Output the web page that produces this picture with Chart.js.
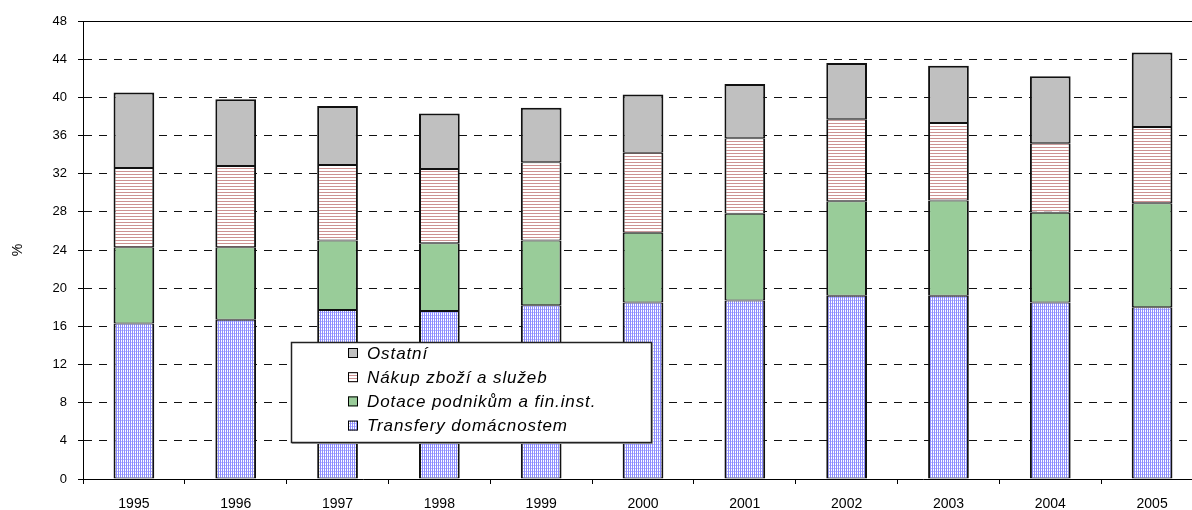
<!DOCTYPE html>
<html>
<head>
<meta charset="utf-8">
<script src="https://cdn.jsdelivr.net/npm/chart.js@4"></script>
<style>
    html, body { margin: 0; padding: 0; background: #fff; overflow: hidden; }
    #wrap { position: absolute; left: 0; top: 0; width: 1215px; height: 510px; }
</style>
</head>
<body>
<div id="wrap"><canvas id="chart" width="1215" height="510"></canvas></div>
<script>
// Data (segment heights, %)
const years = ['1995', '1996', '1997', '1998', '1999', '2000', '2001', '2002', '2003', '2004', '2005'];
const transfery = [16.3, 16.7, 17.7, 17.6, 18.2, 18.5, 18.7, 19.2, 19.2, 18.5, 18.0];
const dotace    = [8.0, 7.6, 7.3, 7.1, 6.8, 7.3, 9.1, 9.9, 10.0, 9.4, 10.9];
const nakup     = [8.3, 8.5, 7.9, 7.8, 8.2, 8.4, 7.9, 8.6, 8.1, 7.3, 8.0];
const ostatni   = [7.9, 7.0, 6.2, 5.8, 5.7, 6.1, 5.7, 5.9, 6.0, 7.0, 7.8];
const seriesNames = ['Transfery domácnostem', 'Dotace podnikům a fin.inst.', 'Nákup zboží a služeb', 'Ostatní'];
const yTicks = [0, 4, 8, 12, 16, 20, 24, 28, 32, 36, 40, 44, 48];

const ctx = document.getElementById('chart').getContext('2d');

function makePattern(w, h, draw) {
    const c = document.createElement('canvas');
    c.width = w; c.height = h;
    const g = c.getContext('2d');
    g.fillStyle = '#fff';
    g.fillRect(0, 0, w, h);
    draw(g);
    return ctx.createPattern(c, 'repeat');
}

// blue fine grid
const bluePat = makePattern(2, 3, g => {
    g.fillStyle = 'rgb(140,140,255)';
    g.fillRect(0, 0, 1, 3);
    g.fillStyle = 'rgb(185,185,255)';
    g.fillRect(1, 0, 1, 1);
});
// red horizontal stripes
const redPat = makePattern(1, 3, g => {
    g.fillStyle = 'rgb(205,145,145)';
    g.fillRect(0, 0, 1, 1);
});
const greenFill = '#99cc99';
const grayFill = '#c0c0c0';

const fills = [bluePat, greenFill, redPat, grayFill];
const values = [transfery, dotace, nakup, ostatni];

const font = "'Liberation Sans', Arial, sans-serif";

const extras = {
    id: 'extras',
    afterDraw(chart) {
        const c = chart.ctx;
        const a = chart.chartArea;
        c.save();
        // top frame line
        c.strokeStyle = '#000';
        c.lineWidth = 1;
        c.beginPath();
        c.moveTo(a.left, Math.round(a.top) + 0.5);
        c.lineTo(a.right, Math.round(a.top) + 0.5);
        c.stroke();

        // legend box
        const lx = 291, ly = 342, lw = 360, lh = 100;
        c.fillStyle = '#aaa';
        c.fillRect(lx + 1, ly + 1, lw + 1, lh + 1);
        c.fillStyle = '#fff';
        c.fillRect(lx, ly, lw, lh);
        c.strokeStyle = '#222';
        c.lineWidth = 1.5;
        c.strokeRect(lx + 0.5, ly + 0.5, lw, lh);

        c.font = 'italic 17px ' + font;
        if ('letterSpacing' in c) c.letterSpacing = '0.9px';
        c.textBaseline = 'middle';
        c.textAlign = 'left';
        const rows = [3, 2, 1, 0];
        rows.forEach((si, i) => {
            const cy = 353 + i * 24.2;
            c.fillStyle = fills[si];
            c.fillRect(348, cy - 5, 10, 10);
            c.strokeStyle = '#000';
            c.lineWidth = 1;
            c.strokeRect(348.5, cy - 4.5, 9, 9);
            c.fillStyle = '#000';
            c.fillText(seriesNames[si], 367, cy + 1);
        });
        c.restore();
    }
};

const datasets = values.map((v, i) => ({
    label: seriesNames[i],
    data: v,
    backgroundColor: fills[i],
    borderColor: '#111',
    borderWidth: { left: 2, right: 2, top: i === 3 ? 2 : 1, bottom: 1 },
    borderSkipped: false,
    barPercentage: 0.4,
    categoryPercentage: 1.0
}));

new Chart(ctx, {
    type: 'bar',
    data: { labels: years, datasets: datasets },
    options: {
        responsive: false,
        animation: false,
        devicePixelRatio: 1,
        layout: { padding: { left: 0, right: 12, top: 21, bottom: 0 } },
        plugins: {
            legend: { display: false },
            tooltip: { enabled: false }
        },
        scales: {
            x: {
                stacked: true,
                grid: { display: true, drawOnChartArea: false, drawTicks: true, tickLength: 5, color: '#000', tickColor: '#000', offset: true },
                border: { display: true, color: '#000', width: 1 },
                ticks: { color: '#000', font: { family: font, size: 14 }, padding: 12, maxRotation: 0 },
                afterFit(s) { s.height = 31; }
            },
            y: {
                stacked: true,
                min: 0,
                max: 48,
                afterBuildTicks(s) { s.ticks = yTicks.map(v => ({ value: v })); },
                grid: { color: '#111', lineWidth: 1, tickLength: 5, tickColor: '#000', tickBorderDash: [] },
                border: { display: true, color: '#000', width: 1, dash: [8, 7] },
                ticks: { color: '#000', font: { family: font, size: 13 }, padding: 11 },
                title: { display: true, text: '%', color: '#000', font: { family: font, size: 14 }, padding: { top: 10, bottom: 0 } },
                afterFit(s) { s.width = 83; }
            }
        }
    },
    plugins: [extras]
});
</script>
</body>
</html>
